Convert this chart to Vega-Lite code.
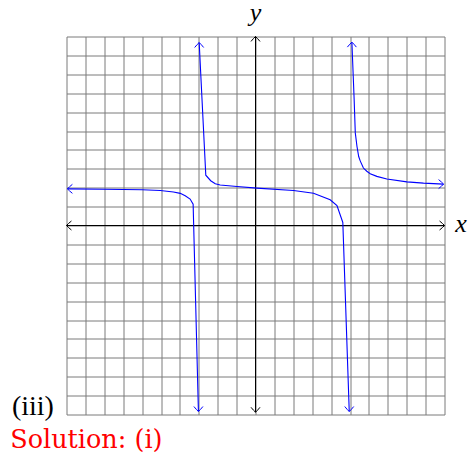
{
  "$schema": "https://vega.github.io/schema/vega-lite/v6.json",
  "width": 378,
  "height": 378,
  "autosize": "none",
  "padding": {"left": 66.5, "top": 36.5, "right": 23.5, "bottom": 42.5},
  "background": "white",
  "view": {"stroke": null},
  "datasets": {
    "axes": [
      {"x": -10, "x2": 10, "y": 0, "y2": 0},
      {"x": 0, "x2": 0, "y": -9.88, "y2": 10}
    ],
    "curve": [
      {"branch": "left", "x": -9.95, "y": 1.94},
      {"branch": "left", "x": -8.0, "y": 1.92},
      {"branch": "left", "x": -6.0, "y": 1.89},
      {"branch": "left", "x": -5.04, "y": 1.85},
      {"branch": "left", "x": -4.34, "y": 1.77},
      {"branch": "left", "x": -3.98, "y": 1.7},
      {"branch": "left", "x": -3.72, "y": 1.57},
      {"branch": "left", "x": -3.46, "y": 1.4},
      {"branch": "left", "x": -3.3, "y": 1.13},
      {"branch": "left", "x": -3.02, "y": -9.84},
      {"branch": "middle", "x": -2.98, "y": 9.68},
      {"branch": "middle", "x": -2.63, "y": 2.66},
      {"branch": "middle", "x": -2.37, "y": 2.37},
      {"branch": "middle", "x": -2.13, "y": 2.21},
      {"branch": "middle", "x": -1.87, "y": 2.14},
      {"branch": "middle", "x": -0.98, "y": 2.06},
      {"branch": "middle", "x": 0.07, "y": 1.98},
      {"branch": "middle", "x": 2.01, "y": 1.85},
      {"branch": "middle", "x": 3.07, "y": 1.71},
      {"branch": "middle", "x": 3.95, "y": 1.36},
      {"branch": "middle", "x": 4.31, "y": 1.05},
      {"branch": "middle", "x": 4.62, "y": 0.16},
      {"branch": "middle", "x": 4.96, "y": -9.84},
      {"branch": "right", "x": 5.1, "y": 9.7},
      {"branch": "right", "x": 5.22, "y": 6.65},
      {"branch": "right", "x": 5.28, "y": 4.9},
      {"branch": "right", "x": 5.37, "y": 4.18},
      {"branch": "right", "x": 5.46, "y": 3.65},
      {"branch": "right", "x": 5.54, "y": 3.42},
      {"branch": "right", "x": 5.71, "y": 3.04},
      {"branch": "right", "x": 5.89, "y": 2.87},
      {"branch": "right", "x": 6.07, "y": 2.74},
      {"branch": "right", "x": 6.42, "y": 2.6},
      {"branch": "right", "x": 6.95, "y": 2.46},
      {"branch": "right", "x": 8.01, "y": 2.31},
      {"branch": "right", "x": 8.89, "y": 2.24},
      {"branch": "right", "x": 9.95, "y": 2.19}
    ],
    "tips": [
      {"x": -10, "y": 0, "dir": "left", "kind": "axis"},
      {"x": 10, "y": 0, "dir": "right", "kind": "axis"},
      {"x": 0, "y": 10, "dir": "up", "kind": "axis"},
      {"x": 0, "y": -9.88, "dir": "down", "kind": "axis"},
      {"x": -9.95, "y": 1.94, "dir": "left", "kind": "curve"},
      {"x": -3.02, "y": -9.84, "dir": "down", "kind": "curve"},
      {"x": -2.98, "y": 9.68, "dir": "up", "kind": "curve"},
      {"x": 4.96, "y": -9.84, "dir": "down", "kind": "curve"},
      {"x": 5.1, "y": 9.7, "dir": "up", "kind": "curve"},
      {"x": 9.95, "y": 2.19, "dir": "right", "kind": "curve"}
    ],
    "notes": [
      {"x": 0, "y": 10.83, "text": "y", "kind": "var"},
      {"x": 10.88, "y": -0.32, "text": "x", "kind": "var"},
      {"x": -12.89, "y": -10.02, "text": "(iii)", "kind": "item"},
      {"x": -12.98, "y": -11.78, "text": "Solution: (i)", "kind": "answer"}
    ]
  },
  "encoding": {
    "x": {
      "field": "x",
      "type": "quantitative",
      "scale": {"domain": [-10, 10], "nice": false, "zero": false},
      "axis": {
        "values": [-10, -9, -8, -7, -6, -5, -4, -3, -2, -1, 0, 1, 2, 3, 4, 5, 6, 7, 8, 9, 10],
        "grid": true, "gridColor": "#7a7a7a", "gridWidth": 1,
        "labels": false, "ticks": false, "domain": false, "title": null
      }
    },
    "y": {
      "field": "y",
      "type": "quantitative",
      "scale": {"domain": [-10, 10], "nice": false, "zero": false},
      "axis": {
        "values": [-10, -9, -8, -7, -6, -5, -4, -3, -2, -1, 0, 1, 2, 3, 4, 5, 6, 7, 8, 9, 10],
        "grid": true, "gridColor": "#7a7a7a", "gridWidth": 1,
        "labels": false, "ticks": false, "domain": false, "title": null
      }
    }
  },
  "layer": [
    {
      "data": {"name": "axes"},
      "mark": {"type": "rule", "color": "#000000", "strokeWidth": 1},
      "encoding": {"x2": {"field": "x2"}, "y2": {"field": "y2"}}
    },
    {
      "data": {"name": "curve"},
      "mark": {"type": "line", "color": "#0000ff", "strokeWidth": 1.1},
      "encoding": {"detail": {"field": "branch"}}
    },
    {
      "data": {"name": "tips"},
      "transform": [{"filter": "datum.dir === 'up'"}],
      "mark": {"type": "point", "shape": "M-1,1.1 Q-0.4,0.35 0,0 Q0.4,0.35 1,1.1", "filled": false, "size": 81, "strokeWidth": 1, "opacity": 1, "angle": 0},
      "encoding": {"color": {"field": "kind", "type": "nominal", "scale": {"domain": ["axis", "curve"], "range": ["#000000", "#0000ff"]}, "legend": null}}
    },
    {
      "data": {"name": "tips"},
      "transform": [{"filter": "datum.dir === 'right'"}],
      "mark": {"type": "point", "shape": "M-1,1.1 Q-0.4,0.35 0,0 Q0.4,0.35 1,1.1", "filled": false, "size": 81, "strokeWidth": 1, "opacity": 1, "angle": 90},
      "encoding": {"color": {"field": "kind", "type": "nominal", "scale": {"domain": ["axis", "curve"], "range": ["#000000", "#0000ff"]}, "legend": null}}
    },
    {
      "data": {"name": "tips"},
      "transform": [{"filter": "datum.dir === 'down'"}],
      "mark": {"type": "point", "shape": "M-1,1.1 Q-0.4,0.35 0,0 Q0.4,0.35 1,1.1", "filled": false, "size": 81, "strokeWidth": 1, "opacity": 1, "angle": 180},
      "encoding": {"color": {"field": "kind", "type": "nominal", "scale": {"domain": ["axis", "curve"], "range": ["#000000", "#0000ff"]}, "legend": null}}
    },
    {
      "data": {"name": "tips"},
      "transform": [{"filter": "datum.dir === 'left'"}],
      "mark": {"type": "point", "shape": "M-1,1.1 Q-0.4,0.35 0,0 Q0.4,0.35 1,1.1", "filled": false, "size": 81, "strokeWidth": 1, "opacity": 1, "angle": 270},
      "encoding": {"color": {"field": "kind", "type": "nominal", "scale": {"domain": ["axis", "curve"], "range": ["#000000", "#0000ff"]}, "legend": null}}
    },
    {
      "data": {"name": "notes"},
      "transform": [{"filter": "datum.kind === 'var'"}],
      "mark": {"type": "text", "font": "Liberation Serif, serif", "fontStyle": "italic", "fontSize": 26, "align": "center", "baseline": "alphabetic", "color": "#000000"},
      "encoding": {"text": {"field": "text"}}
    },
    {
      "data": {"name": "notes"},
      "transform": [{"filter": "datum.kind === 'item'"}],
      "mark": {"type": "text", "font": "Liberation Serif, serif", "fontSize": 28, "align": "left", "baseline": "alphabetic", "color": "#000000"},
      "encoding": {"text": {"field": "text"}}
    },
    {
      "data": {"name": "notes"},
      "transform": [{"filter": "datum.kind === 'answer'"}],
      "mark": {"type": "text", "font": "DejaVu Serif, serif", "fontSize": 25.5, "align": "left", "baseline": "alphabetic", "color": "#ff0000"},
      "encoding": {"text": {"field": "text"}}
    }
  ]
}
